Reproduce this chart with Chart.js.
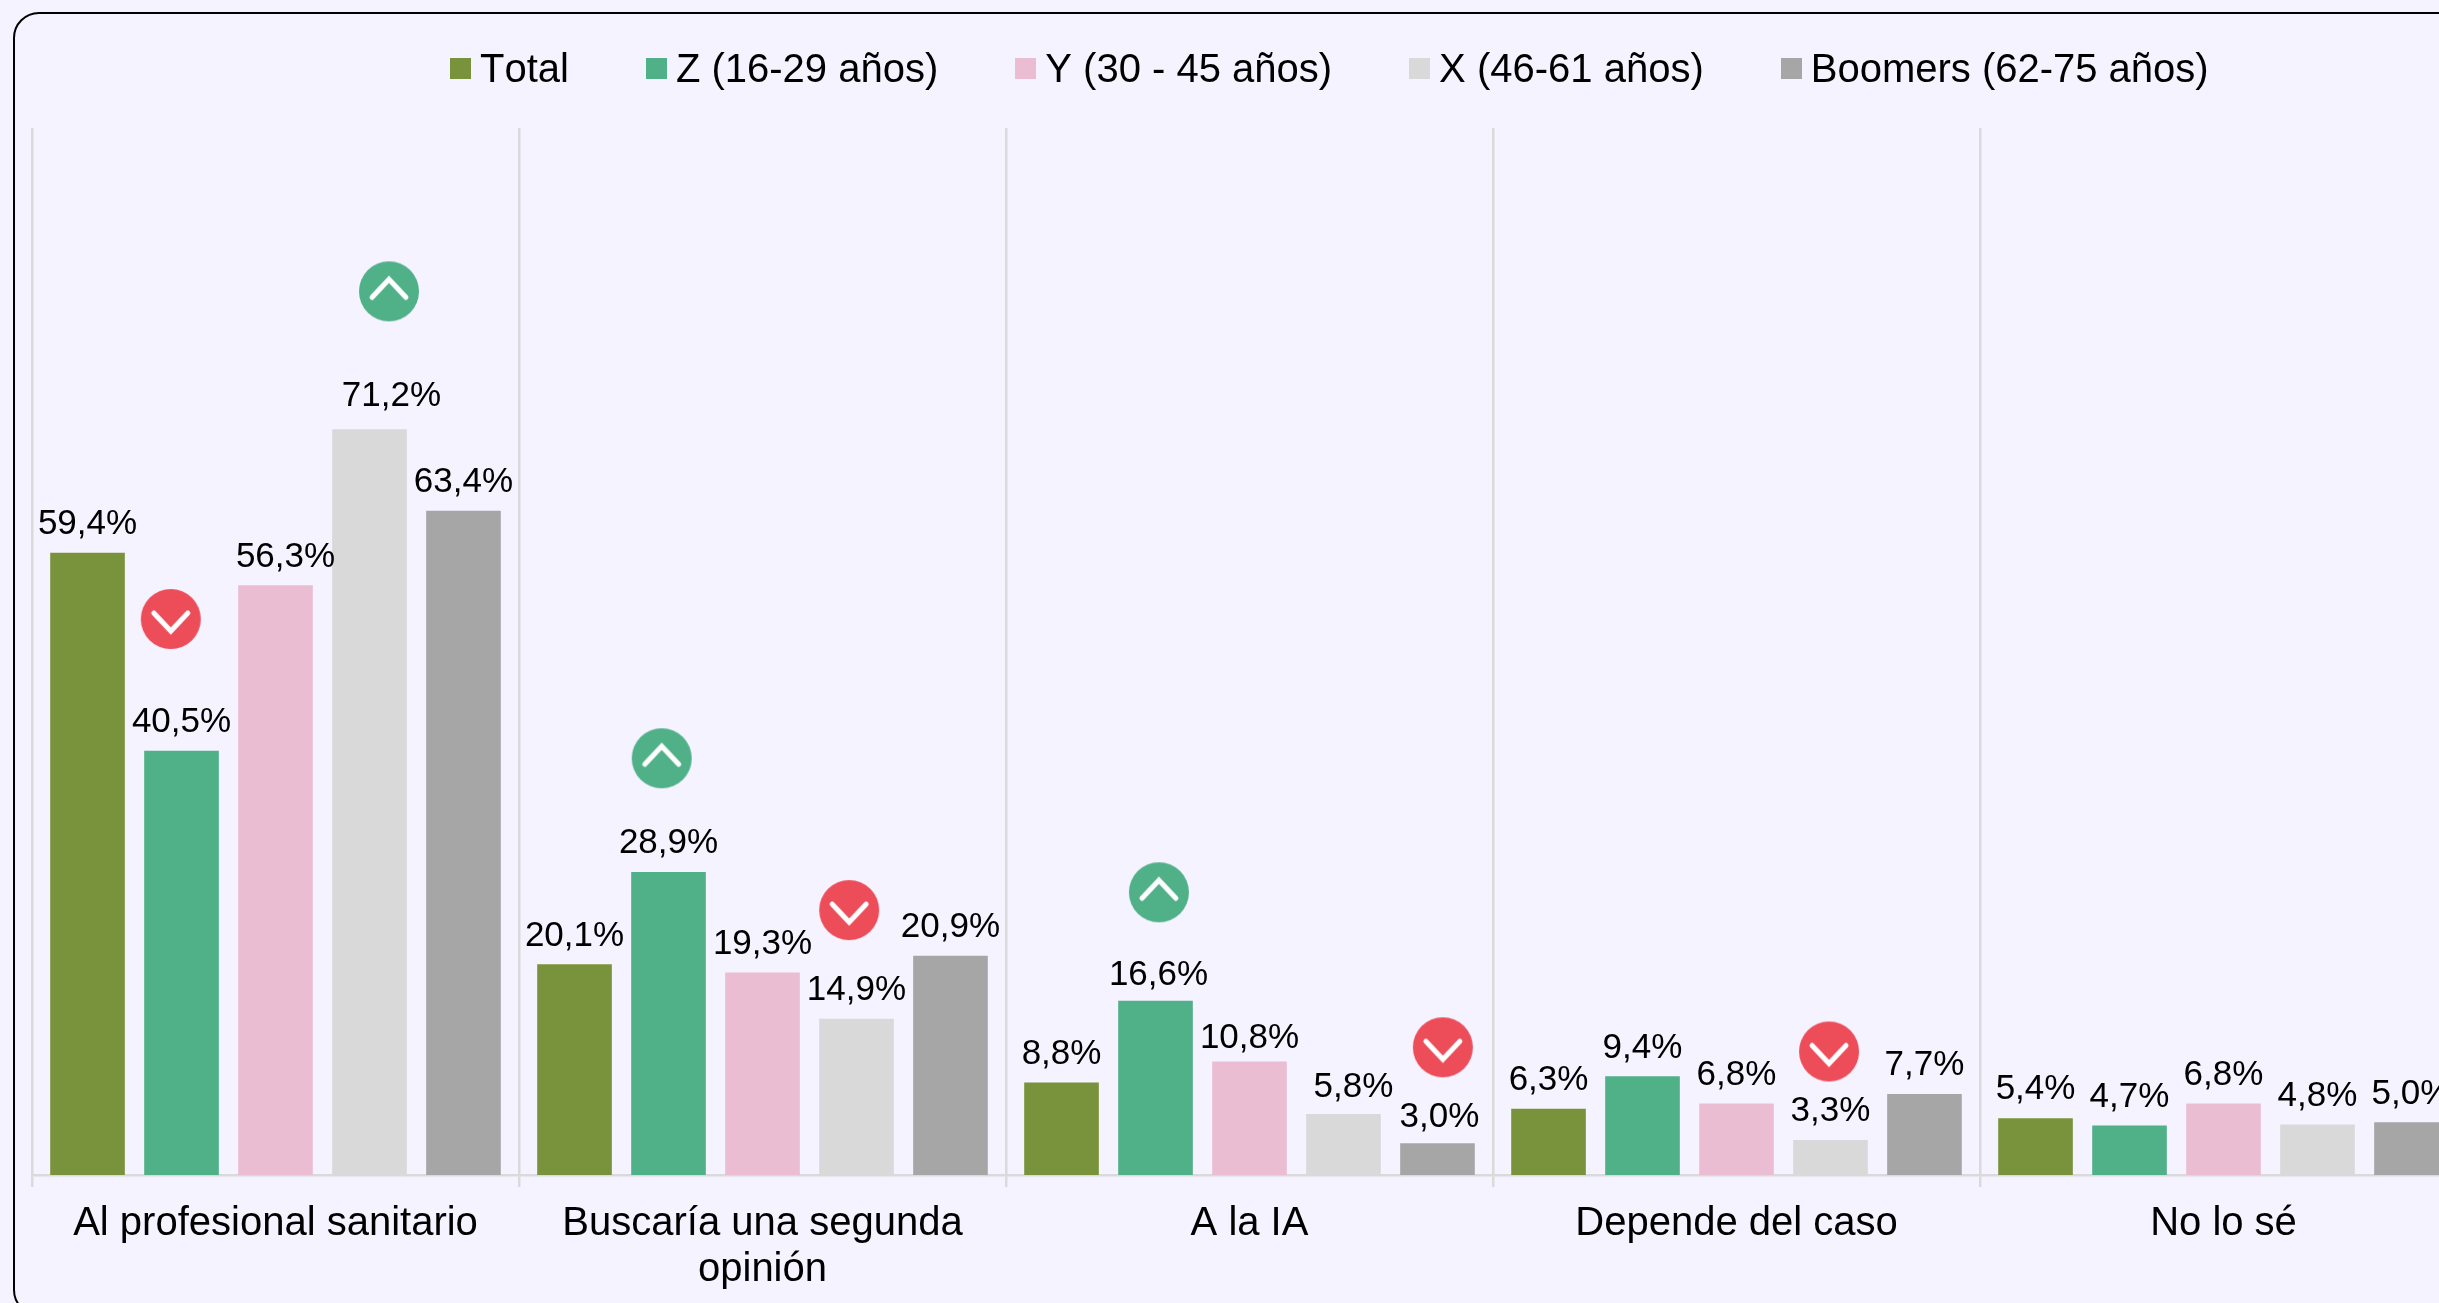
<!DOCTYPE html>
<html>
<head>
<meta charset="utf-8">
<script src="https://cdn.jsdelivr.net/npm/chart.js@4"></script>
<style>
  html, body { margin: 0; height: 100%; overflow: hidden; background: #f5f3ff; }
  body { font-family: "Liberation Sans", Arial, sans-serif; color: #000; }
  #frame {
    position: absolute; left: 13px; top: 12px; width: 2520px; height: 1304px;
    border: 2px solid #000; border-radius: 26px; box-sizing: border-box;
  }
  #chart { position: absolute; left: 0; top: 0; }
  #legend {
    position: absolute; left: 450px; top: 46px; height: 44px;
    display: flex; align-items: center; gap: 77px; font-size: 40px; white-space: nowrap;
    font-kerning: none;
  }
  .legend-item { display: flex; align-items: center; gap: 9px; }
  .legend-box { width: 21px; height: 21px; }
</style>
</head>
<body>
<div id="frame"></div>
<canvas id="chart" width="2500" height="1303"></canvas>
<div id="legend"></div>
<script>
const categories = ['Al profesional sanitario', ['Buscaría una segunda', 'opinión'], 'A la IA', 'Depende del caso', 'No lo sé'];
const seriesNames = ['Total', 'Z (16-29 años)', 'Y (30 - 45 años)', 'X (46-61 años)', 'Boomers (62-75 años)'];
const seriesColors = ['#78933b', '#50b088', '#eabdd2', '#d9d9d9', '#a6a6a6'];

const total = [59.4, 20.1, 8.8, 6.3, 5.4];
const genZ = [40.5, 28.9, 16.6, 9.4, 4.7];
const genY = [56.3, 19.3, 10.8, 6.8, 6.8];
const genX = [71.2, 14.9, 5.8, 3.3, 4.8];
const boomers = [63.4, 20.9, 3.0, 7.7, 5.0];
const seriesValues = [total, genZ, genY, genX, boomers];

// up / down badges, x is a fractional category index (0 = centre of first group)
const badgesUp = [{ x: 0.233, y: 84.4 }, { x: 0.793, y: 39.8 }, { x: 1.814, y: 27.0 }];
const badgesDown = [{ x: -0.215, y: 53.1 }, { x: 1.178, y: 25.3 }, { x: 2.397, y: 12.2 }, { x: 3.190, y: 11.8 }];

// hand moved labels in the original: 'series,category': [dx, extra gap]
const labelNudges = {
  '3,0': [22, 5],
  '2,0': [10, 0],
  '1,2': [3, -3],
  '2,2': [0, -5],
  '3,2': [10, -2],
  '4,2': [2, -2]
};

function badgeImage(color, up) {
  const c = document.createElement('canvas');
  c.width = 62;
  c.height = 62;
  const g = c.getContext('2d');
  g.fillStyle = color;
  g.beginPath();
  g.arc(31, 31, 30, 0, Math.PI * 2);
  g.fill();
  g.strokeStyle = '#fff';
  g.lineWidth = 5;
  g.lineCap = 'round';
  g.lineJoin = 'miter';
  g.beginPath();
  if (up) {
    g.moveTo(14, 37); g.lineTo(31, 19); g.lineTo(48, 37);
  } else {
    g.moveTo(14, 25); g.lineTo(31, 43); g.lineTo(48, 25);
  }
  g.stroke();
  return c;
}

// value labels above the bars
const barLabels = {
  id: 'barLabels',
  afterDatasetsDraw(chart) {
    const ctx = chart.ctx;
    ctx.save();
    ctx.font = '35px "Liberation Sans"';
    ctx.fillStyle = '#000';
    ctx.textAlign = 'center';
    ctx.textBaseline = 'alphabetic';
    seriesValues.forEach((values, i) => {
      chart.getDatasetMeta(i).data.forEach((bar, j) => {
        const nudge = labelNudges[i + ',' + j] || [0, 0];
        ctx.fillText(values[j].toFixed(1).replace('.', ',') + '%', bar.x + nudge[0], bar.y - 19 - nudge[1]);
      });
    });
    ctx.restore();
  }
};

const datasets = seriesNames.map((name, i) => ({
  label: name,
  data: seriesValues[i],
  backgroundColor: seriesColors[i],
  barThickness: 'flex',
  categoryPercentage: 0.965,
  barPercentage: 0.787
}));

[[badgesUp, '#50b088', true], [badgesDown, '#ec4d59', false]].forEach(([points, color, up]) => {
  datasets.push({
    type: 'scatter',
    label: up ? 'up' : 'down',
    data: points,
    parsing: false,
    pointStyle: badgeImage(color, up),
    pointRadius: 30,
    pointHoverRadius: 30
  });
});

new Chart(document.getElementById('chart'), {
  type: 'bar',
  data: { labels: categories, datasets: datasets },
  options: {
    responsive: false,
    animation: false,
    layout: { padding: { left: 32, right: 33, top: 128, bottom: 0 } },
    plugins: { legend: { display: false }, tooltip: { enabled: false } },
    scales: {
      x: {
        offset: true,
        afterFit: (scale) => { scale.height = 128; },
        grid: { color: '#dadada', lineWidth: 2.5, tickLength: 12, offset: true },
        border: { color: '#dadada', width: 2.5 },
        ticks: {
          color: '#000',
          padding: 14,
          autoSkip: false,
          maxRotation: 0,
          font: { family: '"Liberation Sans"', size: 40, lineHeight: 1.15 }
        }
      },
      y: { min: 0, max: 100, display: false }
    }
  },
  plugins: [barLabels]
});

const legend = document.getElementById('legend');
seriesNames.forEach((name, i) => {
  const item = document.createElement('div');
  item.className = 'legend-item';
  item.innerHTML = `<div class="legend-box" style="background:${seriesColors[i]}"></div><span>${name}</span>`;
  legend.appendChild(item);
});
</script>
</body>
</html>
